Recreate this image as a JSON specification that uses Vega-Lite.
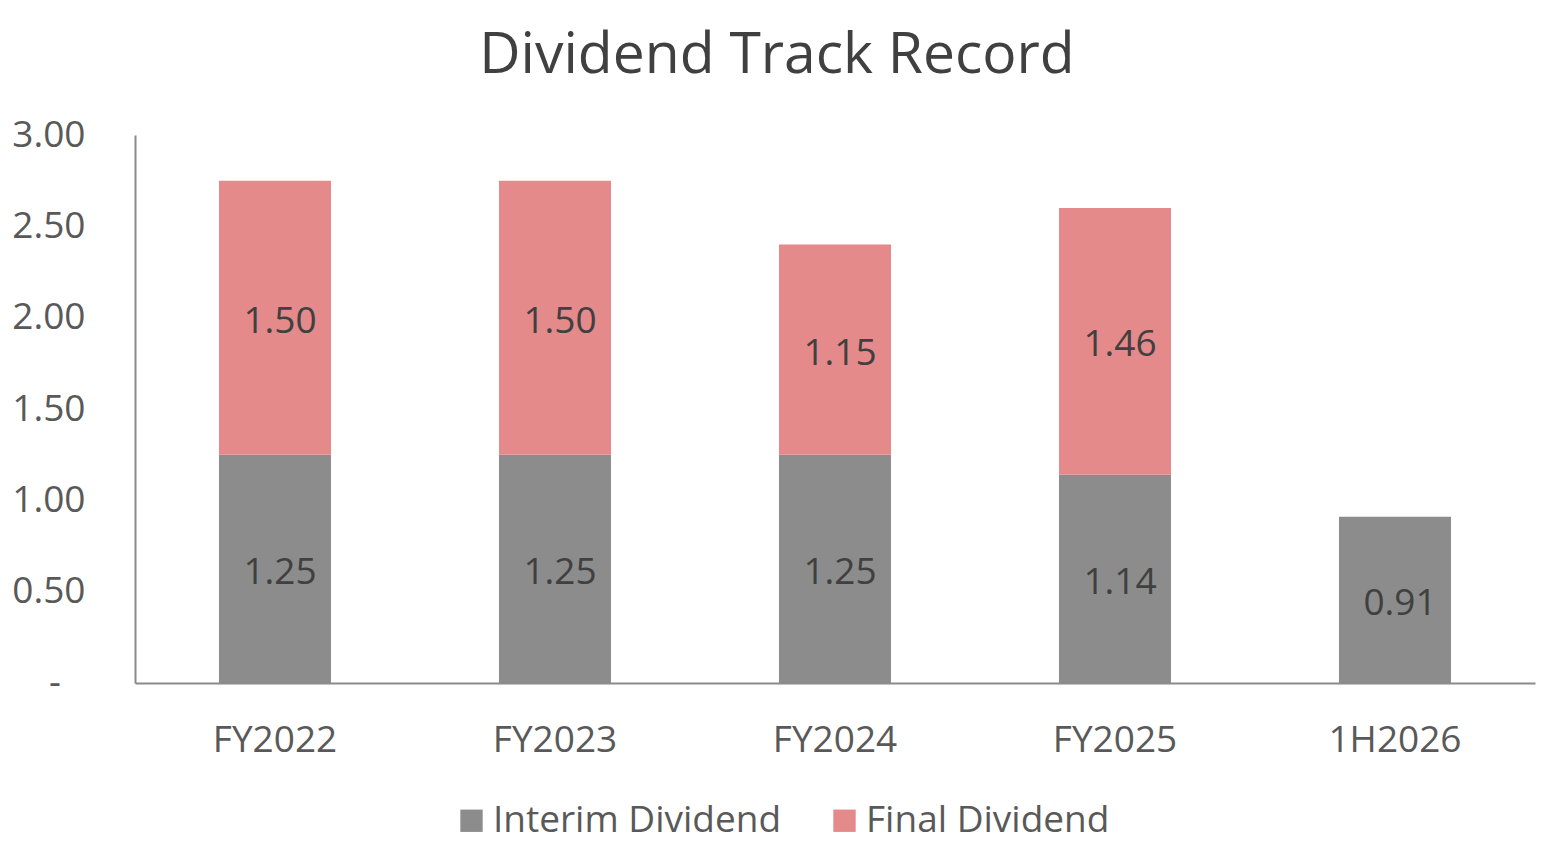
{
  "$schema": "https://vega.github.io/schema/vega-lite/v6.json",
  "autosize": "none",
  "width": 1400,
  "height": 548,
  "padding": {"left": 135, "top": 135, "right": 23, "bottom": 164},
  "background": "white",
  "config": {
    "font": "Open Sans",
    "view": {"stroke": null}
  },
  "title": {
    "text": "Dividend Track Record",
    "fontSize": 57,
    "fontWeight": "normal",
    "color": "#404040",
    "anchor": "middle",
    "dx": -58,
    "offset": 31
  },
  "data": {
    "values": [
      {"period": "FY2022", "type": "Interim Dividend", "order": 1, "value": 1.25},
      {"period": "FY2022", "type": "Final Dividend", "order": 2, "value": 1.50},
      {"period": "FY2023", "type": "Interim Dividend", "order": 1, "value": 1.25},
      {"period": "FY2023", "type": "Final Dividend", "order": 2, "value": 1.50},
      {"period": "FY2024", "type": "Interim Dividend", "order": 1, "value": 1.25},
      {"period": "FY2024", "type": "Final Dividend", "order": 2, "value": 1.15},
      {"period": "FY2025", "type": "Interim Dividend", "order": 1, "value": 1.14},
      {"period": "FY2025", "type": "Final Dividend", "order": 2, "value": 1.46},
      {"period": "1H2026", "type": "Interim Dividend", "order": 1, "value": 0.91}
    ]
  },
  "encoding": {
    "x": {
      "field": "period",
      "type": "nominal",
      "sort": null,
      "title": null,
      "scale": {"paddingInner": 0.6, "paddingOuter": 0.3},
      "axis": {
        "labelAngle": 0,
        "labelFontSize": 37,
        "labelColor": "#595959",
        "labelPadding": 39,
        "ticks": false,
        "domainColor": "#8a8a8a",
        "domainWidth": 2
      }
    },
    "order": {"field": "order", "type": "quantitative"}
  },
  "layer": [
    {
      "mark": {"type": "bar"},
      "encoding": {
        "y": {
          "field": "value",
          "type": "quantitative",
          "stack": "zero",
          "title": null,
          "scale": {"domain": [0, 3]},
          "axis": {
            "values": [0, 0.5, 1, 1.5, 2, 2.5, 3],
            "labelExpr": "datum.value == 0 ? '-\u2002\u2009\u200b' : format(datum.value, '.2f')",
            "labelFontSize": 37,
            "labelColor": "#595959",
            "labelPadding": 50,
            "ticks": false,
            "grid": false,
            "domainColor": "#8a8a8a",
            "domainWidth": 2
          }
        },
        "color": {
          "field": "type",
          "type": "nominal",
          "scale": {
            "domain": ["Interim Dividend", "Final Dividend"],
            "range": ["#8c8c8c", "#e48a8a"]
          },
          "legend": {
            "title": null,
            "orient": "none",
            "direction": "horizontal",
            "legendX": 318,
            "legendY": 667,
            "symbolType": "square",
            "symbolSize": 500,
            "symbolStrokeWidth": 0,
            "labelFontSize": 37,
            "labelLimit": 0,
            "labelColor": "#595959",
            "labelOffset": 3,
            "columnPadding": 44
          }
        }
      }
    },
    {
      "mark": {"type": "text", "fontSize": 37, "color": "#404040", "baseline": "middle", "dx": 5, "dy": 4},
      "encoding": {
        "y": {"field": "value", "type": "quantitative", "stack": "zero", "bandPosition": 0.5},
        "text": {"field": "value", "type": "quantitative", "format": ".2f"}
      }
    }
  ]
}
